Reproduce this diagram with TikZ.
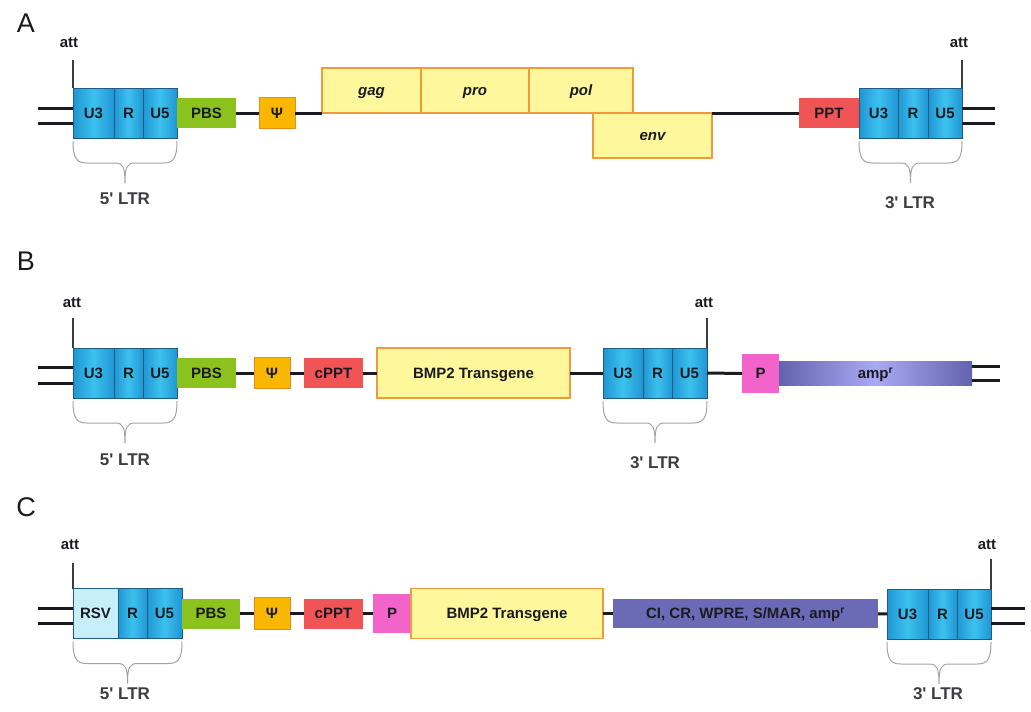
\documentclass[tikz,border=0pt]{standalone}
\usepackage{fontspec}
\setsansfont{Liberation Sans}
\renewcommand{\familydefault}{\sfdefault}
\usetikzlibrary{positioning, calc}
\definecolor{ink}{HTML}{1A1A22}
\definecolor{ltrdark}{HTML}{2096D3}
\definecolor{ltrlight}{HTML}{3CC1EF}
\definecolor{ltredge}{HTML}{1C5C86}
\definecolor{rsvfill}{HTML}{C6EFFA}
\definecolor{pbsgreen}{HTML}{8CC21E}
\definecolor{psifill}{HTML}{F9B700}
\definecolor{psiedge}{HTML}{E98C1C}
\definecolor{pptred}{HTML}{F05454}
\definecolor{pmagenta}{HTML}{F364CA}
\definecolor{genefill}{HTML}{FFF79C}
\definecolor{geneedge}{HTML}{F19A3C}
\definecolor{ampdark}{HTML}{6262AE}
\definecolor{amplight}{HTML}{A9A9F4}
\definecolor{cifill}{HTML}{6A6AB6}
\definecolor{bracegray}{HTML}{A3A3A3}
\newcommand{\lbl}{\fontsize{15}{17}\selectfont\bfseries}

\begin{document}
\begin{tikzpicture}[x=1pt, y=-1pt,
  box/.style={inner sep=0pt, outer sep=0pt, font=\lbl, text=ink,
    text height=10.5pt, text depth=0pt},
  ltrseg/.style={box, draw=ltredge, line width=0.8pt, left color=ltrdark,
    right color=ltrdark, middle color=ltrlight, minimum height=50pt},
  rsvseg/.style={box, draw=ltredge, line width=0.8pt, fill=rsvfill,
    minimum height=50pt},
  pbs/.style={box, fill=pbsgreen, minimum width=59pt, minimum height=30pt},
  psi/.style={box, draw=psiedge, fill=psifill, line width=1pt,
    minimum width=36pt, minimum height=31pt},
  ppt/.style={box, fill=pptred, minimum width=59pt, minimum height=30pt},
  prom/.style={box, fill=pmagenta, minimum width=37pt, minimum height=39pt},
  gene/.style={box, draw=geneedge, fill=genefill, line width=1.5pt,
    minimum height=45pt},
  amp/.style={box, left color=ampdark, right color=ampdark,
    middle color=amplight, minimum height=24pt},
  bb/.style={line width=3pt, ink},
  dbl/.style={line width=3pt, ink},
  attln/.style={line width=1.1pt, ink!85},
  attlbl/.style={font=\lbl, text=ink},
  ltrlbl/.style={font=\fontsize{17}{19}\selectfont\bfseries, text=ink!85},
  lettr/.style={font=\fontsize{27}{29}\selectfont, text=ink},
  brc/.style={line width=1pt, bracegray},
  pics/ltrbrace/.style={code={
    \draw[brc] (-#1,0) .. controls (-#1,18) and ({4-#1},22) .. ({14-#1},22)
      -- (-10,22) .. controls (-2,22) and (0,26) .. (0,42)
      .. controls (0,26) and (2,22) .. (10,22) -- ({#1-14},22)
      .. controls ({#1-4},22) and (#1,18) .. (#1,0);
  }}
]
  \useasboundingbox (0,0) rectangle (1031,712);

  % A: provirus
  \node[lettr] (labA) at (26,23) {A};
  \node[ltrseg, minimum width=41pt] (u3A) at (93.5,113) {U3};
  \node[ltrseg, minimum width=29pt, right=0pt of u3A] (rA) {R};
  \node[ltrseg, minimum width=34pt, right=0pt of rA] (u5A) {U5};
  \node[pbs, right=0pt of u5A] (pbsA) {PBS};
  \node[psi] (psiA) at (277,113) {Ψ};
  \node[gene, minimum width=99pt, font=\lbl\itshape] (gagA) at (371.5,90.5) {gag};
  \node[gene, minimum width=108pt, font=\lbl\itshape, right=0pt of gagA] (proA) {pro};
  \node[gene, minimum width=104pt, font=\lbl\itshape, right=0pt of proA] (polA) {pol};
  \node[gene, minimum width=119pt, font=\lbl\itshape] (envA) at (652.5,135.5) {env};
  \node[ppt, minimum width=60pt] (pptA) at (829,113) {PPT};
  \node[ltrseg, minimum width=39pt, right=0pt of pptA] (u3Ar) {U3};
  \node[ltrseg, minimum width=30pt, right=0pt of u3Ar] (rAr) {R};
  \node[ltrseg, minimum width=34pt, right=0pt of rAr] (u5Ar) {U5};

  \draw[bb] (pbsA) -- (psiA);
  \draw[bb] (psiA) -- (gagA.south west);
  \draw[bb] (envA.north east) -- (pptA);
  \draw[dbl] ([yshift=5pt]u3A.west) -- ++(-35,0);
  \draw[dbl] ([yshift=-10pt]u3A.west) -- ++(-35,0);
  \draw[dbl] ([yshift=5pt]u5Ar.east) -- ++(33,0);
  \draw[dbl] ([yshift=-10pt]u5Ar.east) -- ++(33,0);

  \node[attlbl] (attA) at (69,43) {att};
  \draw[attln] (u3A.north west) -- ++(0,-28);
  \node[attlbl] (attAr) at (959,43) {att};
  \draw[attln] (u5Ar.north east) -- ++(0,-28);

  \pic at ($(u3A.south west)!0.5!(u5A.south east)+(0,3)$) {ltrbrace=52};
  \node[ltrlbl] (ltr5A) at (125,199) {5\textquotesingle{} LTR};
  \pic at ($(u3Ar.south west)!0.5!(u5Ar.south east)+(0,3)$) {ltrbrace=51.5};
  \node[ltrlbl] (ltr3A) at (910,203) {3\textquotesingle{} LTR};

  % B: vector
  \node[lettr] (labB) at (26,261) {B};
  \node[ltrseg, minimum width=41pt] (u3B) at (93.5,373) {U3};
  \node[ltrseg, minimum width=29pt, right=0pt of u3B] (rB) {R};
  \node[ltrseg, minimum width=34pt, right=0pt of rB] (u5B) {U5};
  \node[pbs, right=0pt of u5B] (pbsB) {PBS};
  \node[psi] (psiB) at (272,373) {Ψ};
  \node[ppt] (cpptB) at (333.5,373) {cPPT};
  \node[gene, minimum width=193pt, minimum height=50pt] (bmpB) at (473.5,373) {BMP2 Transgene};
  \node[ltrseg, minimum width=40pt] (u3Br) at (623,373) {U3};
  \node[ltrseg, minimum width=29pt, right=0pt of u3Br] (rBr) {R};
  \node[ltrseg, minimum width=35pt, right=0pt of rBr] (u5Br) {U5};
  \node[prom] (pB) at (760.5,373.5) {P};
  \node[amp, minimum width=193pt, right=0pt of pB] (ampB) {amp\textsuperscript{r}};

  \draw[bb] (pbsB) -- (psiB);
  \draw[bb] (psiB) -- (cpptB);
  \draw[bb] (cpptB) -- (bmpB);
  \draw[bb] (bmpB) -- (u3Br);
  \draw[bb] (u5Br) -- (pB);
  \draw[dbl] ([yshift=6pt]u3B.west) -- ++(-35,0);
  \draw[dbl] ([yshift=-10pt]u3B.west) -- ++(-35,0);
  \draw[dbl] ([yshift=7pt]ampB.east) -- ++(28,0);
  \draw[dbl] ([yshift=-7pt]ampB.east) -- ++(28,0);

  \node[attlbl] (attB) at (72,303) {att};
  \draw[attln] (u3B.north west) -- ++(0,-30);
  \node[attlbl] (attBr) at (704,303) {att};
  \draw[attln] (u5Br.north east) -- ++(0,-30);

  \pic at ($(u3B.south west)!0.5!(u5B.south east)+(0,3)$) {ltrbrace=52};
  \node[ltrlbl] (ltr5B) at (125,460) {5\textquotesingle{} LTR};
  \pic at ($(u3Br.south west)!0.5!(u5Br.south east)+(0,3)$) {ltrbrace=52};
  \node[ltrlbl] (ltr3B) at (655,463) {3\textquotesingle{} LTR};

  % C: improved vector
  \node[lettr] (labC) at (26,507) {C};
  \node[rsvseg, minimum width=45pt] (rsvC) at (95.5,613.5) {RSV};
  \node[ltrseg, minimum width=29pt, right=0pt of rsvC] (rC) {R};
  \node[ltrseg, minimum width=35pt, right=0pt of rC] (u5C) {U5};
  \node[pbs, minimum width=58pt, right=0pt of u5C] (pbsC) {PBS};
  \node[psi, minimum height=32pt] (psiC) at (272,613.5) {Ψ};
  \node[ppt] (cpptC) at (333.5,613.5) {cPPT};
  \node[prom, minimum width=38pt] (pC) at (392,613.5) {P};
  \node[gene, minimum width=192pt, minimum height=50pt, right=0pt of pC] (bmpC) {BMP2 Transgene};
  \node[box, fill=cifill, minimum width=265pt, minimum height=29pt] (ciC) at (745.5,613.5)
    {CI, CR, WPRE, S/MAR, amp\textsuperscript{r}};
  \node[ltrseg, minimum width=41pt] (u3Cr) at (907.5,614) {U3};
  \node[ltrseg, minimum width=29pt, right=0pt of u3Cr] (rCr) {R};
  \node[ltrseg, minimum width=34pt, right=0pt of rCr] (u5Cr) {U5};

  \draw[bb] (pbsC) -- (psiC);
  \draw[bb] (psiC) -- (cpptC);
  \draw[bb] (cpptC) -- (pC);
  \draw[bb] (bmpC) -- (ciC);
  \draw[bb] (ciC) -- (u3Cr);
  \draw[dbl] ([yshift=5pt]rsvC.west) -- ++(-35,0);
  \draw[dbl] ([yshift=-10pt]rsvC.west) -- ++(-35,0);
  \draw[dbl] ([yshift=6pt]u5Cr.east) -- ++(34,0);
  \draw[dbl] ([yshift=-9pt]u5Cr.east) -- ++(34,0);

  \node[attlbl] (attC) at (70,545) {att};
  \draw[attln] (rsvC.north west) -- ++(0,-26);
  \node[attlbl] (attCr) at (987,545) {att};
  \draw[attln] (u5Cr.north east) -- ++(0,-30);

  \pic at ($(rsvC.south west)!0.5!(u5C.south east)+(0,3)$) {ltrbrace=54.5};
  \node[ltrlbl] (ltr5C) at (125,694) {5\textquotesingle{} LTR};
  \pic at ($(u3Cr.south west)!0.5!(u5Cr.south east)+(0,3)$) {ltrbrace=52};
  \node[ltrlbl] (ltr3C) at (938,694) {3\textquotesingle{} LTR};
\end{tikzpicture}
\end{document}
